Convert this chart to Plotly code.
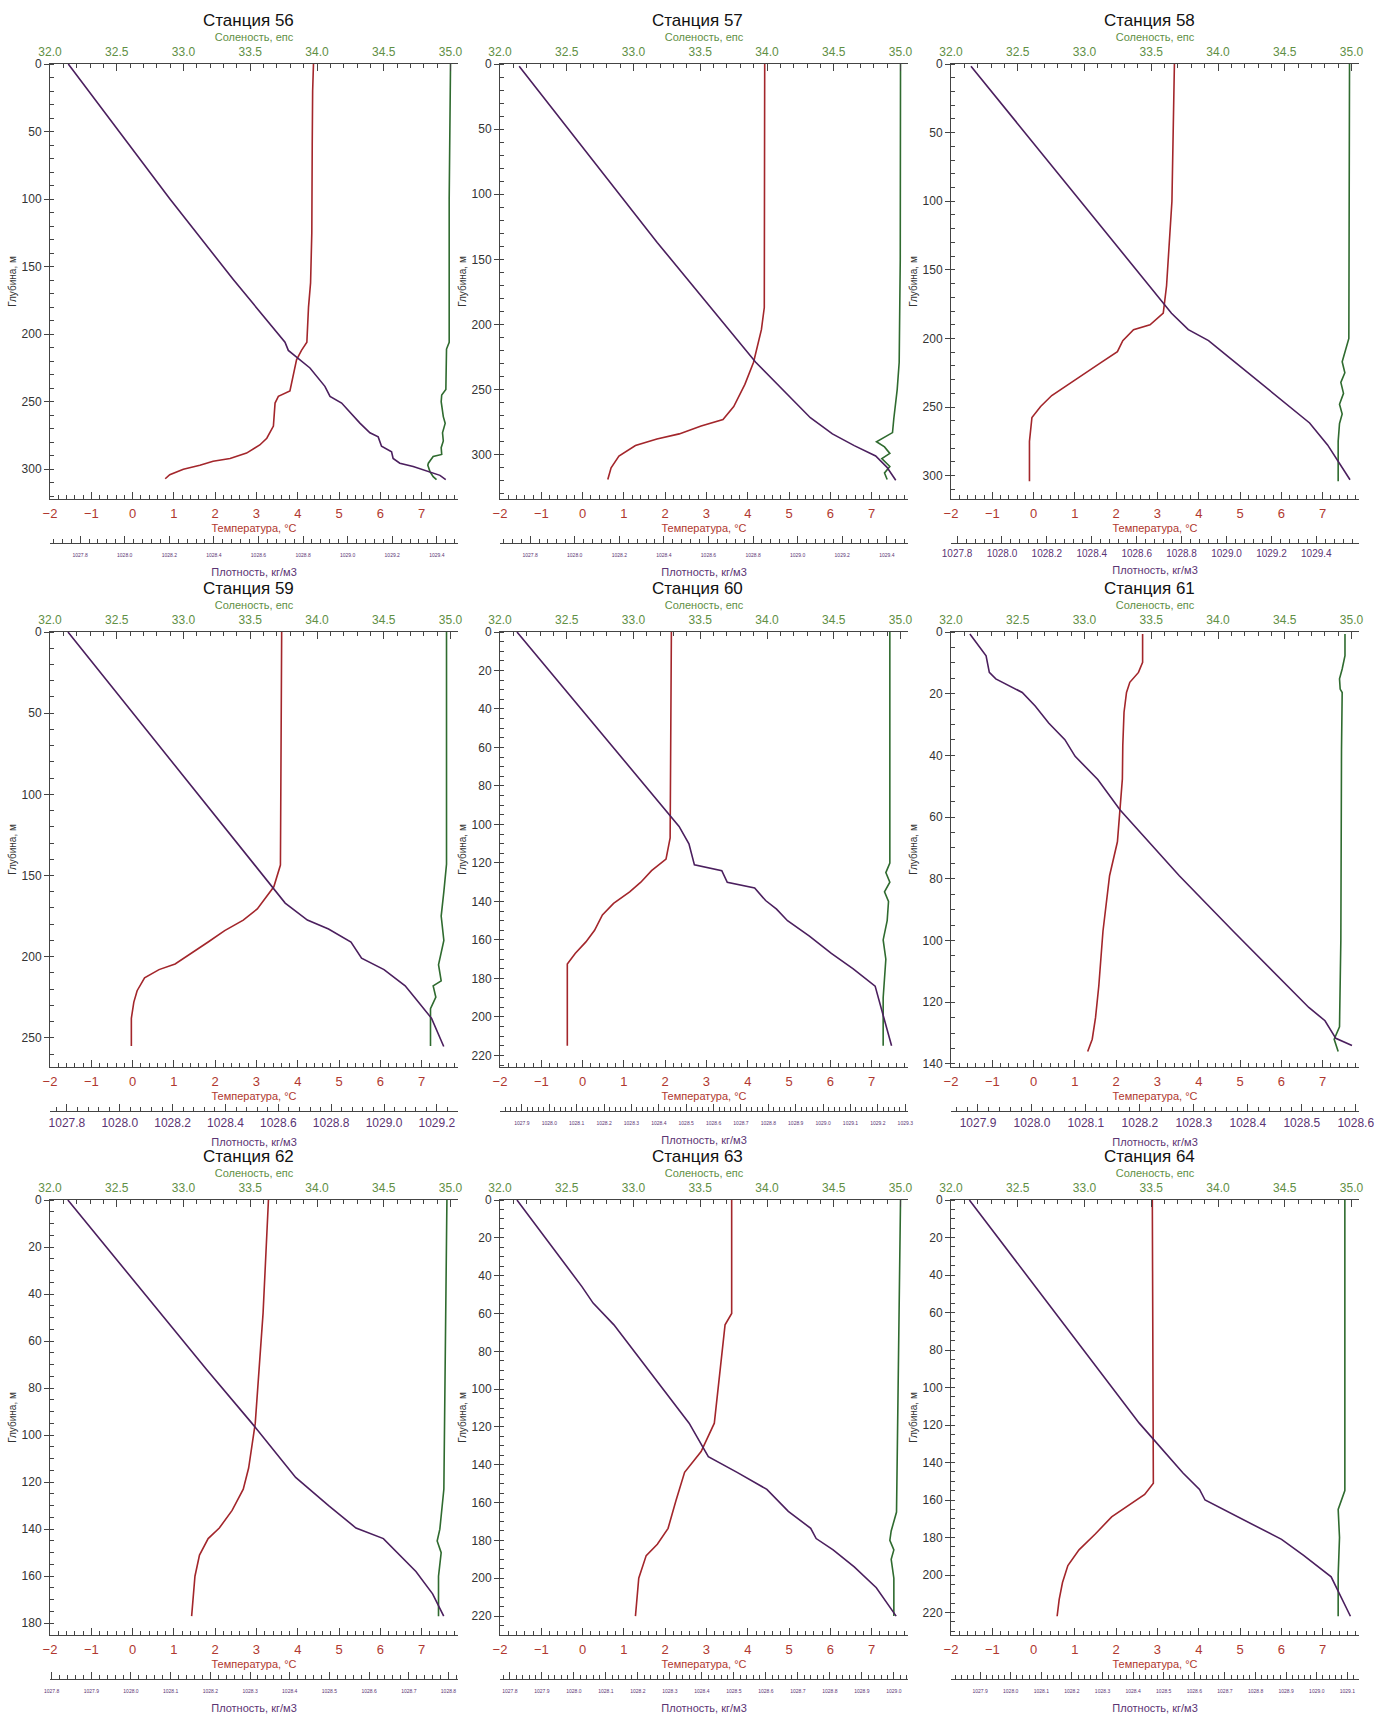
import plotly.graph_objects as go

# ---- CTD profiles: depth (m) and value for each parameter ----
# temperature (°C), salinity (psu), density (kg/m3)

# Станция 56
t56_z = [0, 20, 60, 100, 125, 162, 180, 206, 212, 219, 231, 242, 246, 251, 268, 277, 282, 288, 292, 294, 297, 300, 304, 307]
t56_v = [4.38, 4.36, 4.35, 4.34, 4.34, 4.31, 4.26, 4.22, 4.09, 3.97, 3.89, 3.81, 3.53, 3.45, 3.41, 3.25, 3.08, 2.76, 2.36, 1.95, 1.63, 1.23, 0.90, 0.79]
s56_z = [0, 100, 206, 211, 241, 245, 250, 261, 266, 273, 279, 284, 289, 290.5, 295.5, 297, 301.7, 305.5, 307.6]
s56_v = [35.0, 34.99, 34.99, 34.97, 34.965, 34.934, 34.93, 34.946, 34.96, 34.94, 34.946, 34.93, 34.934, 34.87, 34.834, 34.83, 34.846, 34.87, 34.895]
d56_z = [0, 100, 159.5, 206, 212, 219, 225, 238.6, 246, 251, 265.8, 273, 276, 283, 287, 292, 295.5, 298, 301.7, 304.5, 307.6]
d56_v = [1027.747, 1028.203, 1028.487, 1028.719, 1028.734, 1028.786, 1028.831, 1028.898, 1028.921, 1028.973, 1029.055, 1029.1, 1029.137, 1029.152, 1029.197, 1029.204, 1029.234, 1029.294, 1029.369, 1029.414, 1029.44]

# Станция 57
t57_z = [0, 100, 187, 204, 229, 246, 263, 273, 278, 284, 288, 293, 301, 310, 319]
t57_v = [4.41, 4.41, 4.40, 4.33, 4.14, 3.93, 3.66, 3.40, 2.87, 2.34, 1.80, 1.28, 0.88, 0.69, 0.61]
s57_z = [0, 150, 229, 250, 272, 283, 290, 294, 299, 303, 309, 314, 319]
s57_v = [35.0, 34.998, 34.99, 34.975, 34.95, 34.94, 34.82, 34.88, 34.92, 34.86, 34.92, 34.88, 34.9]
d57_z = [1.7, 137, 229, 271.6, 284, 293, 301, 309.5, 319.6]
d57_v = [1027.751, 1028.37, 1028.812, 1029.057, 1029.156, 1029.254, 1029.35, 1029.40, 1029.44]

# Станция 58
t58_z = [0, 100, 161.6, 181.6, 190, 193.6, 201.6, 209.6, 217.6, 225.6, 233.6, 241.6, 249.6, 257.6, 275, 304]
t58_v = [3.41, 3.35, 3.22, 3.14, 2.82, 2.42, 2.16, 2.03, 1.63, 1.23, 0.83, 0.44, 0.17, -0.04, -0.1, -0.1]
s58_z = [0, 200, 217, 225, 232, 240, 248, 255, 262, 275, 304]
s58_v = [34.985, 34.98, 34.93, 34.95, 34.92, 34.94, 34.91, 34.93, 34.91, 34.90, 34.90]
d58_z = [1.6, 181.6, 193.6, 201.6, 213.6, 225.6, 237.6, 249.6, 261.6, 277.6, 303]
d58_v = [1027.862, 1028.755, 1028.83, 1028.92, 1029.01, 1029.1, 1029.19, 1029.28, 1029.37, 1029.45, 1029.55]

# Станция 59
t59_z = [0, 143.6, 157, 170.6, 177.5, 184, 191, 197.7, 204.5, 208, 213, 221, 228, 238, 255]
t59_v = [3.61, 3.58, 3.42, 3.02, 2.68, 2.23, 1.83, 1.43, 1.03, 0.64, 0.29, 0.11, 0.03, -0.03, -0.03]
s59_z = [0, 143, 160, 175, 190, 205, 215, 218, 225, 232, 255]
s59_v = [34.97, 34.97, 34.95, 34.93, 34.95, 34.91, 34.93, 34.87, 34.89, 34.85, 34.85]
d59_z = [0, 167, 177.5, 183, 191, 201, 208, 218, 226, 238, 255.4]
d59_v = [1027.804, 1028.626, 1028.71, 1028.79, 1028.875, 1028.915, 1029.0, 1029.08, 1029.12, 1029.18, 1029.226]

# Станция 60
t60_z = [0, 107, 118, 124, 130, 135, 141, 147, 155, 161, 167, 172.5, 215]
t60_v = [2.15, 2.12, 2.02, 1.67, 1.41, 1.14, 0.75, 0.48, 0.29, 0.08, -0.18, -0.37, -0.37]
s60_z = [0, 120, 125, 130, 135, 140, 150, 160, 170, 190, 215]
s60_v = [34.92, 34.92, 34.89, 34.92, 34.88, 34.91, 34.90, 34.87, 34.89, 34.87, 34.87]
d60_z = [0, 101, 110, 121, 124, 130, 133, 139.5, 144, 150, 158, 167, 175, 184, 215]
d60_v = [1027.882, 1028.474, 1028.51, 1028.53, 1028.63, 1028.65, 1028.75, 1028.79, 1028.83, 1028.87, 1028.95, 1029.03, 1029.11, 1029.19, 1029.25]

# Станция 61
t61_z = [0.65, 9.8, 13.1, 16.3, 19.6, 26, 36.8, 47.6, 68, 79, 97, 114.6, 125, 132, 136]
t61_v = [2.64, 2.64, 2.54, 2.33, 2.25, 2.19, 2.16, 2.15, 2.03, 1.84, 1.68, 1.58, 1.5, 1.42, 1.31]
s61_z = [0.65, 7.7, 12, 15.2, 18.5, 19.6, 38, 47.8, 100, 128, 132, 136]
s61_v = [34.951, 34.951, 34.93, 34.91, 34.915, 34.93, 34.925, 34.925, 34.92, 34.91, 34.87, 34.9]
d61_z = [0.65, 7.7, 13.1, 15.2, 19.6, 24, 29.5, 34.9, 40.3, 47.8, 57.6, 79, 97, 114.6, 121.7, 126, 131.7, 134]
d61_v = [1027.885, 1027.915, 1027.921, 1027.933, 1027.982, 1028.006, 1028.031, 1028.061, 1028.08, 1028.122, 1028.163, 1028.273, 1028.373, 1028.473, 1028.513, 1028.543, 1028.563, 1028.593]

# Станция 62
t62_z = [0, 48, 95, 114, 123, 132, 139.5, 144, 151, 160, 177]
t62_v = [3.29, 3.16, 2.97, 2.81, 2.68, 2.41, 2.10, 1.83, 1.62, 1.51, 1.43]
s62_z = [0, 123, 140, 145, 150, 160, 177]
s62_v = [34.973, 34.95, 34.92, 34.90, 34.93, 34.91, 34.91]
d62_z = [0, 72, 95, 118, 130, 139.5, 144, 151, 158, 167.5, 177]
d62_v = [1027.841, 1028.19, 1028.305, 1028.415, 1028.498, 1028.567, 1028.636, 1028.677, 1028.718, 1028.76, 1028.788]

# Станция 63
t63_z = [0, 60, 66, 89, 118, 133, 144, 159, 173.6, 182, 188, 200, 220]
t63_v = [3.61, 3.61, 3.45, 3.34, 3.19, 2.87, 2.47, 2.26, 2.07, 1.81, 1.54, 1.36, 1.28]
s63_z = [0, 165, 175, 180, 185, 190, 200, 220]
s63_v = [35.0, 34.97, 34.93, 34.92, 34.95, 34.93, 34.95, 34.95]
d63_z = [0, 45.8, 54.5, 66, 118, 135.7, 144, 153, 164.6, 173.6, 179, 185, 194, 205, 220]
d63_v = [1027.822, 1028.025, 1028.06, 1028.125, 1028.36, 1028.42, 1028.51, 1028.603, 1028.67, 1028.74, 1028.757, 1028.81, 1028.876, 1028.945, 1029.007]

# Станция 64
t64_z = [0, 151, 157, 163, 169, 178, 186.6, 195, 204, 213, 222]
t64_v = [2.875, 2.9, 2.69, 2.29, 1.89, 1.5, 1.1, 0.83, 0.70, 0.62, 0.57]
s64_z = [0, 155, 165, 180, 200, 222]
s64_v = [34.95, 34.95, 34.90, 34.91, 34.90, 34.90]
d64_z = [0, 119, 145.6, 154.4, 160, 166, 175, 181, 189.5, 201, 222]
d64_v = [1027.865, 1028.42, 1028.563, 1028.617, 1028.635, 1028.707, 1028.81, 1028.885, 1028.957, 1029.047, 1029.11]

stations = ["56", "57", "58", "59", "60", "61", "62", "63", "64"]
profiles = {
    "56": (t56_z, t56_v, s56_z, s56_v, d56_z, d56_v),
    "57": (t57_z, t57_v, s57_z, s57_v, d57_z, d57_v),
    "58": (t58_z, t58_v, s58_z, s58_v, d58_z, d58_v),
    "59": (t59_z, t59_v, s59_z, s59_v, d59_z, d59_v),
    "60": (t60_z, t60_v, s60_z, s60_v, d60_z, d60_v),
    "61": (t61_z, t61_v, s61_z, s61_v, d61_z, d61_v),
    "62": (t62_z, t62_v, s62_z, s62_v, d62_z, d62_v),
    "63": (t63_z, t63_v, s63_z, s63_v, d63_z, d63_v),
    "64": (t64_z, t64_v, s64_z, s64_v, d64_z, d64_v),
}

# per-station axis scales
depth_max = [322, 334, 317, 268, 226, 141, 185, 230, 232]
depth_step = [50, 50, 50, 50, 20, 20, 20, 20, 20]
depth_minor = [10, 10, 10, 10, 5, 5, 5, 5, 5]
dens_min = [1027.665, 1027.665, 1027.773, 1027.736, 1027.82, 1027.85, 1027.796, 1027.769, 1027.805]
dens_max = [1029.495, 1029.495, 1029.59, 1029.28, 1029.31, 1028.606, 1028.824, 1029.044, 1029.138]
dens_step = [0.2, 0.2, 0.2, 0.2, 0.1, 0.1, 0.1, 0.1, 0.1]
dens_minor = [0.04, 0.04, 0.04, 0.04, 0.02, 0.02, 0.02, 0.02, 0.02]
dens_font = [5, 5, 10, 12, 5, 12, 5, 5, 5]
temp_range = [-2, 7.88]
sal_range = [32.0, 35.056]

# ---- page geometry (pixels) ----
W, H = 1378, 1718
COL_LEFT = [50, 500, 951]
ROW_TOP = [64, 632, 1200]
PW, PH = 408, 435
DENS_GAP = 44
FONT = "Liberation Sans, Arial, sans-serif"

C_TEMP = "#a3262b"
C_SAL = "#2f6b2f"
C_DENS = "#4b1f5e"
C_TEMP_TXT = "#b0372e"
C_SAL_TXT = "#5f8f45"
C_DENS_TXT = "#5b3473"
C_AX = "#444444"


def ax_name(prefix, n):
    return prefix if n == 1 else f"{prefix}{n}"


fig = go.Figure()
layout = dict(
    width=W, height=H, template="none",
    margin=dict(l=0, r=0, t=0, b=0),
    paper_bgcolor="white", plot_bgcolor="rgba(0,0,0,0)",
    showlegend=False, font=dict(family=FONT, color="#222"),
)
annotations = []

for p, st in enumerate(stations):
    r, c = divmod(p, 3)
    x0 = COL_LEFT[c]
    top = ROW_TOP[r]
    bot = top + PH
    xdom = [x0 / W, (x0 + PW) / W]
    ydom = [1 - bot / H, 1 - top / H]
    nt, ns, nd, ny = 3 * p + 1, 3 * p + 2, 3 * p + 3, p + 1
    xt, xs, xd, yy = ax_name("x", nt), ax_name("x", ns), ax_name("x", nd), ax_name("y", ny)

    minor_common = dict(ticks="inside", ticklen=4, tickcolor=C_AX, tickwidth=1, showgrid=False)
    small = dens_font[p] < 8

    layout[ax_name("yaxis", ny)] = dict(
        domain=ydom, anchor=xt, range=[depth_max[p], 0], autorange=False,
        showline=True, linecolor=C_AX, linewidth=1, showgrid=False, zeroline=False,
        ticks="outside", ticklen=5, tickcolor=C_AX, dtick=depth_step[p], tick0=0,
        minor=dict(dtick=depth_minor[p], tick0=0, **minor_common),
        tickfont=dict(size=12, color="#333"), automargin=False,
        title=dict(text="Глубина, м", font=dict(size=10, color="#333"), standoff=3),
    )
    layout[ax_name("xaxis", nt)] = dict(
        domain=xdom, anchor=yy, side="bottom", range=temp_range, autorange=False,
        showline=True, linecolor=C_AX, linewidth=1, showgrid=False, zeroline=False,
        ticks="inside", ticklen=7, tickcolor=C_AX, dtick=1, tick0=0,
        minor=dict(dtick=0.2, tick0=0, **minor_common),
        tickfont=dict(size=13, color=C_TEMP_TXT), automargin=False, ticklabelstandoff=2,
        title=dict(text="Температура, °C", font=dict(size=11, color=C_TEMP_TXT), standoff=4),
    )
    layout[ax_name("xaxis", ns)] = dict(
        overlaying=xt, anchor=yy, side="top", range=sal_range, autorange=False,
        showline=True, linecolor=C_AX, linewidth=1, showgrid=False, zeroline=False,
        ticks="inside", ticklen=7, tickcolor=C_AX, dtick=0.5, tick0=32, tickformat=".1f",
        minor=dict(dtick=0.1, tick0=32, **minor_common),
        tickfont=dict(size=12, color=C_SAL_TXT), automargin=False, ticklabelstandoff=2,
        title=dict(text="Соленость, епс", font=dict(size=11, color=C_SAL_TXT), standoff=1),
    )
    layout[ax_name("xaxis", nd)] = dict(
        overlaying=xt, anchor="free", position=1 - (bot + DENS_GAP) / H, side="bottom",
        range=[dens_min[p], dens_max[p]], autorange=False,
        showline=True, linecolor=C_AX, linewidth=1, showgrid=False, zeroline=False,
        ticks="inside", ticklen=7, tickcolor=C_AX, dtick=dens_step[p], tick0=1027.0, tickformat=".1f",
        minor=dict(dtick=dens_minor[p], tick0=1027.0, **minor_common),
        tickfont=dict(size=dens_font[p], color=C_DENS_TXT), automargin=False,
        ticklabelstandoff=7 if small else 1,
        title=dict(text="Плотность, кг/м3", font=dict(size=11, color=C_DENS_TXT),
                   standoff=11 if small else 8),
    )

    tz, tv, sz, sv, dz, dv = profiles[st]
    fig.add_trace(go.Scatter(x=tv, y=tz, xaxis=xt, yaxis=yy, mode="lines",
                             line=dict(color=C_TEMP, width=1.6), name="Температура"))
    fig.add_trace(go.Scatter(x=sv, y=sz, xaxis=xs, yaxis=yy, mode="lines",
                             line=dict(color=C_SAL, width=1.6), name="Соленость"))
    fig.add_trace(go.Scatter(x=dv, y=dz, xaxis=xd, yaxis=yy, mode="lines",
                             line=dict(color=C_DENS, width=1.6), name="Плотность"))

    annotations.append(dict(
        text=f"Станция {st}", xref="paper", yref="paper",
        x=(x0 + 198) / W, y=1 - (top - 44) / H, xanchor="center", yanchor="middle",
        showarrow=False, font=dict(size=17, color="#111"),
    ))

layout["annotations"] = annotations
fig.update_layout(**layout)
fig.write_html("out.html")
